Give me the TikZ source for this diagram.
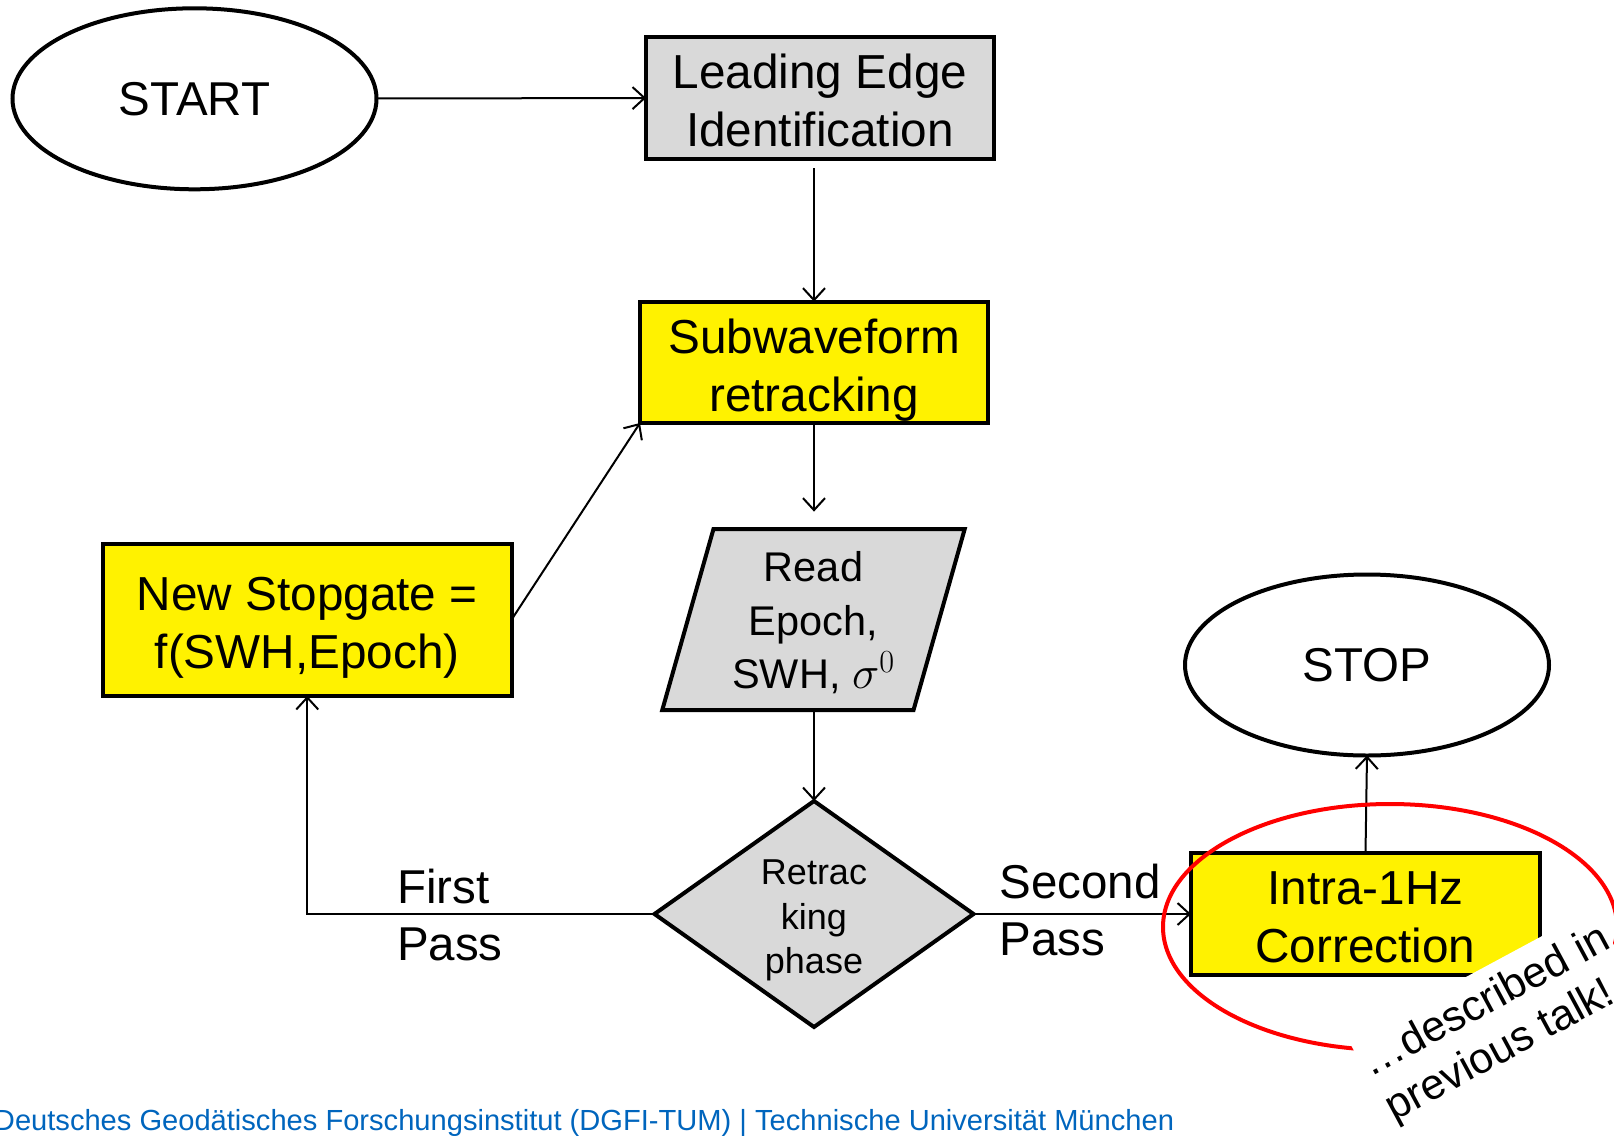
\RequirePackage{fix-cm}
\documentclass[tikz,border=0pt]{standalone}
\usepackage{fontspec}
\setmainfont{Liberation Sans}
\usetikzlibrary{shapes.geometric,arrows.meta}
\definecolor{boxgrey}{HTML}{D9D9D9}
\definecolor{tumblue}{HTML}{0065BD}
% invisible struts that fix the top and bottom of multi-line node texts
\newcommand\linetop[1]{\rule{0pt}{#1}}
\newcommand\linebot[1]{\rule[-#1]{0pt}{#1}}
\begin{document}
\begin{tikzpicture}[x=1pt,y=-1pt,
  every node/.style={inner sep=0pt, outer sep=0pt},
  box/.style={draw, line width=4pt, rectangle, align=center,
    font=\fontsize{47.7}{58}\selectfont},
  yellowbox/.style={box, fill=yellow},
  greybox/.style={box, fill=boxgrey},
  terminal/.style={draw, ellipse, line width=4pt, fill=white,
    minimum width=364pt, minimum height=181pt,
    font=\fontsize{47.5}{54}\selectfont},
  flow/.style={line width=2pt, -{Straight Barb[length=12pt,width=22pt]}},
  passlabel/.style={align=left, anchor=base west,
    font=\fontsize{47.5}{57}\selectfont}
]
\useasboundingbox (0,0) rectangle (1614,1135);

% terminals
\node[terminal] (start) at (194.5,98.8) {START};
\node[terminal] (stop) at (1367,665) {STOP};

% process boxes
\node[greybox, minimum width=348pt, minimum height=121.5pt] (lead) at (820,97.75)
  {\linetop{49.5pt}Leading Edge\\Identification\linebot{10.1pt}};
\node[yellowbox, minimum width=348pt, minimum height=121.4pt] (sub) at (814,362.3)
  {\linetop{49.5pt}Subwaveform\\retracking\linebot{10.1pt}};
\node[yellowbox, minimum width=408.5pt, minimum height=152.5pt] (gate) at (307.25,619.75)
  {\linetop{49.5pt}New Stopgate =\\f(SWH,Epoch)\linebot{10.1pt}};
\node[yellowbox, minimum width=349pt, minimum height=122pt] (intra) at (1365.5,914)
  {\linetop{49.5pt}Intra-1Hz\\Correction\linebot{10.1pt}};

% input/output
\node[draw, fill=boxgrey, line width=4pt, trapezium, trapezium left angle=76,
  trapezium right angle=104, trapezium stretches=true,
  minimum width=303.5pt, minimum height=181pt, align=center,
  font=\fontsize{41.5}{53.5}\selectfont] (read) at (813.5,619.5)
  {\linetop{45.7pt}Read\\Epoch,\\SWH, {\fontsize{46}{53}\selectfont$\sigma^0$}\linebot{14pt}};

% decision
\node[draw, fill=boxgrey, line width=4pt, diamond, aspect=1.4, minimum width=319pt,
  minimum height=226pt, align=center,
  font=\fontsize{36}{44.8}\selectfont] (phase) at (814,914)
  {\linetop{40pt}Retrac\\king\\phase\linebot{10pt}};

% flow
\coordinate (subin) at (sub.north |- 0,168);
\coordinate (readin) at (sub.south |- 0,511.6);
\coordinate (readout) at (phase.north |- read.south);
\draw[flow] (start) -- (lead);
\draw[flow] (subin) -- (sub.north);
\draw[flow] (sub.south) -- (readin);
\draw[flow] (readout) -- (phase.north);
\draw[flow] (phase.west) -| (gate.south);
\draw[flow] (gate.east) -- (sub.south west);
\draw[flow] (phase.east) -- (intra.west);
\draw[flow] (intra.north) -- (stop.south);

% branch labels (anchored at the baseline of the last line)
\node[passlabel] (first) at (397,960.3) {First\\Pass};
\node[passlabel] (second) at (999.5,955) {Second\\Pass};

% note ring, partly covered by the tilted note
\draw[red, line width=4pt] (1390,927) ellipse [x radius=227, y radius=123];
\node[fill=white, inner xsep=2pt, inner ysep=12.2pt, rotate=28.3, align=left,
  font=\fontsize{43}{50}\selectfont] (note) at (1498.3,1024.6)
  {…described in\\previous talk!};

% footer
\node[anchor=base west, text=tumblue, font=\fontsize{29.1}{34}\selectfont] (footer)
  at (-6,1130)
  {Deutsches Geodätisches Forschungsinstitut (DGFI-TUM) | Technische Universität München};
\end{tikzpicture}
\end{document}
